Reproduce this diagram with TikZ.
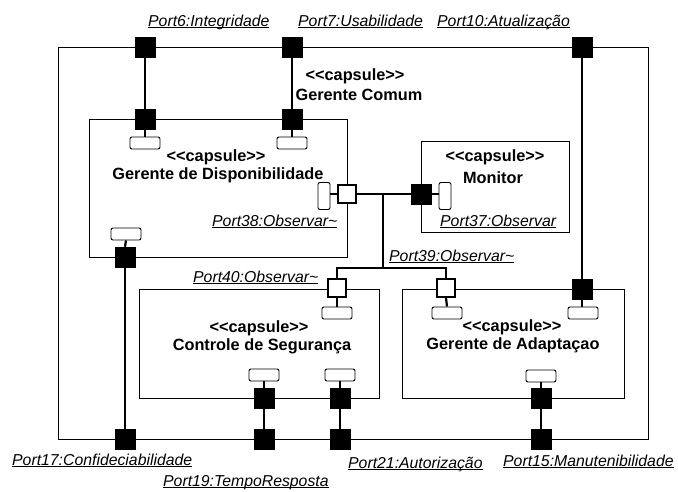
\documentclass[tikz,border=0pt]{standalone}
\usepackage{fontspec}
\setmainfont{Liberation Sans}
% underlined port label
\newcommand\portlabel[1]{\setbox0\hbox{#1}\rlap{\rule[-2.2pt]{\wd0}{0.8pt}}\box0}
\begin{document}
\begin{tikzpicture}[x=1pt,y=-1pt,
  capsule/.style={draw, line width=0.9pt, inner sep=0pt},
  bport/.style={draw, fill=black, minimum size=20pt, inner sep=0pt, line width=0.5pt},
  wport/.style={draw, fill=white, minimum size=17.5pt, inner sep=0pt, line width=2.2pt},
  slot/.style={draw, fill=white, rounded corners=2pt, minimum width=30pt, minimum height=12pt, inner sep=0pt, line width=0.9pt},
  vslot/.style={slot, minimum width=12pt, minimum height=27pt},
  link/.style={line width=2.6pt},
  stub/.style={line width=2.2pt},
  captext/.style={font=\fontsize{16.3}{18}\selectfont\bfseries, inner sep=0pt},
  plabel/.style={font=\fontsize{15.8}{18}\selectfont\itshape, anchor=base west, inner sep=0pt}]
\useasboundingbox (0,0) rectangle (678,491);

% capsule boxes
\node[capsule, minimum width=590pt, minimum height=392pt] (comum) at (353,243) {};
\node[capsule, minimum width=258pt, minimum height=138pt] (disp) at (218,188) {};
\node[capsule, minimum width=148pt, minimum height=91pt] (monitor) at (495,186.5) {};
\node[capsule, minimum width=240pt, minimum height=109pt] (controle) at (259,343.5) {};
\node[capsule, minimum width=222pt, minimum height=109pt] (adapt) at (513,343.5) {};

% capsule titles
\node[captext] (tc1) at (355,76) {<{}<capsule>{}>};
\node[captext] (tc2) at (359,95) {Gerente Comum};
\node[captext] (td1) at (216,157) {<{}<capsule>{}>};
\node[captext] (td2) at (218,175) {Gerente de Disponibilidade};
\node[captext] (tm1) at (495,157) {<{}<capsule>{}>};
\node[captext] (tm2) at (493,178) {Monitor};
\node[captext] (ts1) at (259,328) {<{}<capsule>{}>};
\node[captext] (ts2) at (262,346) {Controle de Segurança};
\node[captext] (ta1) at (512,327) {<{}<capsule>{}>};
\node[captext] (ta2) at (513,345) {Gerente de Adaptaçao};

% ports on Gerente Comum
\node[bport] (p6o) at (145,47) {};
\node[bport] (p7o) at (292,47) {};
\node[bport] (p10o) at (582,47) {};
\node[bport] (p17o) at (125,439) {};
\node[bport] (p19o) at (264,439) {};
\node[bport] (p21o) at (340,439) {};
\node[bport] (p15o) at (541,439) {};

% ports on the inner capsules
\node[bport] (p6i) at (145,119) {};
\node[bport] (p7i) at (292,119) {};
\node[bport] (p17i) at (125,257) {};
\node[wport] (p38) at (347,194) {};
\node[bport] (p37) at (421,194) {};
\node[wport] (p40) at (337,288) {};
\node[wport] (p39) at (446,288) {};
\node[bport] (p10i) at (582,289) {};
\node[bport] (p19i) at (264,398) {};
\node[bport] (p21i) at (340,398) {};
\node[bport] (p15i) at (541,398) {};

% port slots
\node[slot] (s6) at (145,143) {};
\node[slot] (s7) at (292,143) {};
\node[slot] (s17) at (126,234) {};
\node[vslot] (s38) at (324,196) {};
\node[vslot] (s37) at (445,196) {};
\node[slot] (s40) at (337,313) {};
\node[slot] (s39) at (447,313) {};
\node[slot] (s10) at (583,313) {};
\node[slot] (s19) at (264,375) {};
\node[slot] (s21) at (340,375) {};
\node[slot] (s15) at (541,376) {};

% slot stubs
\draw[stub] (p6i.south) -- (s6.north);
\draw[stub] (p7i.south) -- (s7.north);
\draw[stub] (p17i.north) -- (s17.south);
\draw[stub] (p38.west) -- (s38.east |- p38.west);
\draw[stub] (p37.east) -- (s37.west |- p37.east);
\draw[stub] (p40.south) -- (s40.north);
\draw[stub] (p39.south) -- (s39.north);
\draw[stub] (p10i.south) -- (s10.north -| p10i.south);
\draw[stub] (p19i.north) -- (s19.south);
\draw[stub] (p21i.north) -- (s21.south);
\draw[stub] (p15i.north) -- (s15.south);

% connectors
\draw[link] (p6o.south) -- (p6i.north);
\draw[link] (p7o.south) -- (p7i.north);
\draw[link] (p10o.south) -- (p10i.north);
\draw[link] (p17i.south) -- (p17o.north);
\draw[link] (p19i.south) -- (p19o.north);
\draw[link] (p21i.south) -- (p21o.north);
\draw[link] (p15i.south) -- (p15o.north);
\draw[link] (p38.east) -- (p37.west);
\coordinate (j1) at (383,194);
\coordinate (j2) at (383,268);
\draw[link] (j1) -- (j2);
\draw[link] (p40.north) -- (p40.north |- j2) -- (p39.north |- j2) -- (p39.north);

% port labels
\node[plabel] (l6) at (148,26) {\portlabel{Port6:Integridade}};
\node[plabel] (l7) at (298,26) {\portlabel{Port7:Usabilidade}};
\node[plabel] (l10) at (437,26) {\portlabel{Port10:Atualização}};
\node[plabel] (l38) at (212,226) {\portlabel{Port38:Observar\char"7E}};
\node[plabel] (l37) at (440,226) {\portlabel{Port37:Observar}};
\node[plabel] (l39) at (389,261) {\portlabel{Port39:Observar\char"7E}};
\node[plabel] (l40) at (193,282) {\portlabel{Port40:Observar\char"7E}};
\node[plabel] (l17) at (12,465) {\portlabel{Port17:Confideciabilidade}};
\node[plabel] (l19) at (163,486) {\portlabel{Port19:TempoResposta}};
\node[plabel] (l21) at (348,468) {\portlabel{Port21:Autorização}};
\node[plabel] (l15) at (503,466) {\portlabel{Port15:Manutenibilidade}};
\end{tikzpicture}
\end{document}
